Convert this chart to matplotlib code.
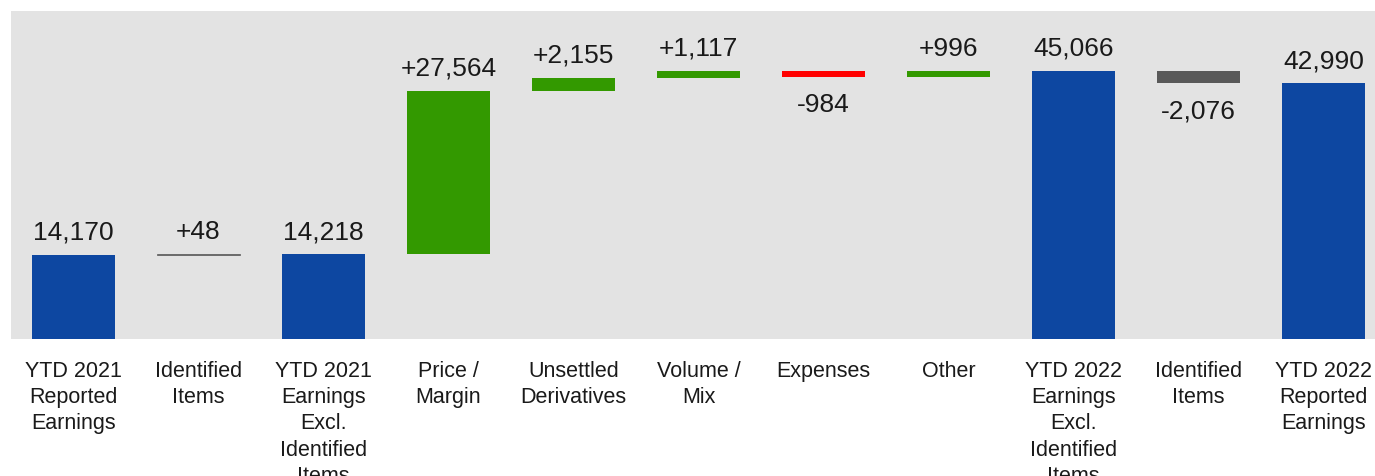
import matplotlib
matplotlib.use("Agg")
import matplotlib.pyplot as plt
import numpy as np

categories = ["YTD 2021\nReported\nEarnings", "Identified\nItems",
              "YTD 2021\nEarnings\nExcl.\nIdentified\nItems", "Price /\nMargin",
              "Unsettled\nDerivatives", "Volume /\nMix", "Expenses", "Other",
              "YTD 2022\nEarnings\nExcl.\nIdentified\nItems", "Identified\nItems",
              "YTD 2022\nReported\nEarnings"]
# kind: 't' = total, 'd' = delta
kinds = ["t", "d", "t", "d", "d", "d", "d", "d", "t", "d", "t"]
values = [14170, 48, 14218, 27564, 2155, 1117, -984, 996, 45066, -2076, 42990]
labels = ["14,170", "+48", "14,218", "+27,564", "+2,155", "+1,117", "-984",
          "+996", "45,066", "-2,076", "42,990"]
colors = ["#0D47A1", "#595959", "#0D47A1", "#339900", "#339900", "#339900",
          "#FF0000", "#339900", "#0D47A1", "#595959", "#0D47A1"]

plt.rcParams['font.family'] = ['Liberation Sans', 'DejaVu Sans']

fig = plt.figure(figsize=(13.75, 4.77), dpi=100)
ax = fig.add_axes([11/1375, (477-340)/477, 1 - 11/1375, 328/477])
ax.set_facecolor("#E3E3E3")

bw = 83/125
running = 0
for i, (k, v, lab, color) in enumerate(zip(kinds, values, labels, colors)):
    if k == "t":
        bottom, height = 0, v
        running = v
        top = v
        below = False
    else:
        bottom = running if v >= 0 else running + v
        height = abs(v)
        top = running + v if v >= 0 else running
        below = v < 0
        running += v
    if i == 1:
        ax.bar(i, height, bottom=bottom, width=bw, color=color,
               edgecolor=color, linewidth=0.5)
    else:
        ax.bar(i, height, bottom=bottom, width=bw, color=color, linewidth=0)
    if below:
        ax.annotate(lab, (i, bottom), xytext=(0, -11), textcoords="offset points",
                    ha="center", va="top", fontsize=19, color="#1a1a1a")
    else:
        ax.annotate(lab, (i, top), xytext=(0, 8), textcoords="offset points",
                    ha="center", va="bottom", fontsize=19, color="#1a1a1a")

ax.set_xlim(-0.5, 10.412)
ax.set_ylim(0, 55156)
ax.set_yticks([])
ax.set_xticks(range(len(categories)))
ax.set_xticklabels(categories, fontsize=15.5, color="#1a1a1a", linespacing=1.32)
ax.tick_params(axis="x", length=0, pad=15.3)
for s in ax.spines.values():
    s.set_visible(False)

fig.savefig("out.png", dpi=100)
